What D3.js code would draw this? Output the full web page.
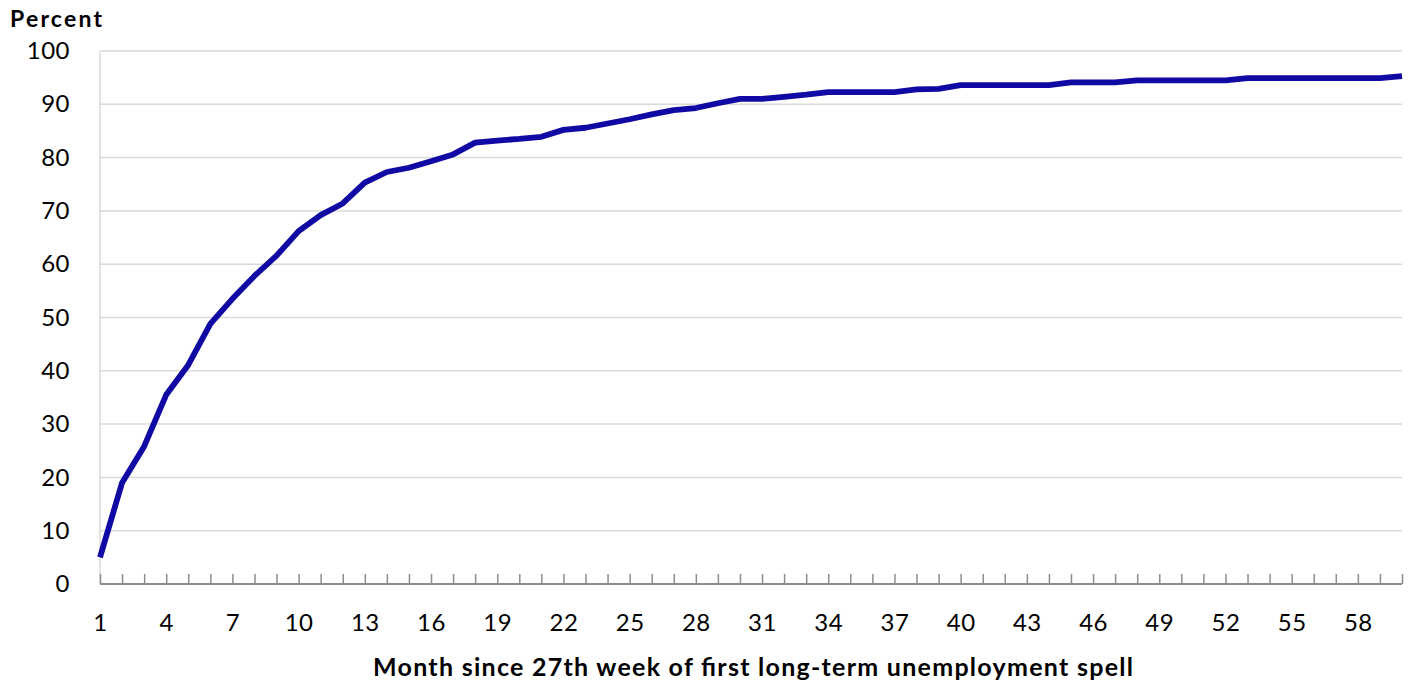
<!DOCTYPE html>
<html>
<head>
<meta charset="utf-8">
<script src="https://cdn.jsdelivr.net/npm/d3@7"></script>
<style>
  html, body { margin: 0; padding: 0; background: #fff; }
  svg { display: block; }
  text { font-family: Lato, "Open Sans", sans-serif; fill: #000; }
</style>
</head>
<body>
<svg id="chart" width="1415" height="685"></svg>
<script>
// ---- data ----
const months = [1,2,3,4,5,6,7,8,9,10,11,12,13,14,15,16,17,18,19,20,
  21,22,23,24,25,26,27,28,29,30,31,32,33,34,35,36,37,38,39,40,
  41,42,43,44,45,46,47,48,49,50,51,52,53,54,55,56,57,58,59,60];
const percentValues = [5.0,19.0,25.8,35.5,41.1,48.8,53.5,57.8,61.6,66.2,
  69.2,71.4,75.3,77.3,78.1,79.3,80.6,82.8,83.2,83.5,
  83.9,85.2,85.6,86.4,87.2,88.1,88.9,89.3,90.2,91.0,
  91.0,91.4,91.8,92.3,92.3,92.3,92.3,92.8,92.9,93.6,
  93.6,93.6,93.6,93.6,94.1,94.1,94.1,94.5,94.5,94.5,
  94.5,94.5,94.9,94.9,94.9,94.9,94.9,94.9,94.9,95.3];
const xTickLabels = [1,4,7,10,13,16,19,22,25,28,31,34,37,40,43,46,49,52,55,58];
const yTickLabels = [0,10,20,30,40,50,60,70,80,90,100];
const yTitle = "Percent";
const xTitle = "Month since 27th week of first long-term unemployment spell";

// ---- layout ----
const svg = d3.select("#chart");
const x = d3.scaleLinear().domain([1, 60]).range([100, 1402]);
const y = d3.scaleLinear().domain([0, 100]).range([584, 51]);

// gridlines
svg.append("g")
  .selectAll("line")
  .data(yTickLabels.filter(v => v > 0))
  .join("line")
  .attr("x1", x(1)).attr("x2", x(60))
  .attr("y1", d => y(d)).attr("y2", d => y(d))
  .attr("stroke", "#d9d9d9").attr("stroke-width", 1.5);

// left vertical line (light)
svg.append("line")
  .attr("x1", x(1)).attr("x2", x(1))
  .attr("y1", y(100)).attr("y2", y(0))
  .attr("stroke", "#d9d9d9").attr("stroke-width", 1.5);

// y axis labels
const yAxis = d3.axisLeft(y).tickValues(yTickLabels).tickSize(0).tickPadding(30)
  .tickFormat(d3.format("d"));
const gy = svg.append("g").attr("transform", `translate(${x(1)},0)`).call(yAxis);
gy.select(".domain").remove();
gy.selectAll("text").style("font-size", "24px").style("font-family", "Lato, sans-serif")
  .style("letter-spacing", "0.5px").attr("fill", "#000");

// x axis: minor ticks every month (inward)
const xAxisTicks = d3.axisTop(x).tickValues(months).tickSize(10).tickFormat("");
const gxt = svg.append("g").attr("transform", `translate(0,${y(0)})`).call(xAxisTicks);
gxt.select(".domain").remove();
gxt.selectAll("line").attr("stroke", "#8c8c8c").attr("stroke-width", 1.5);

// x axis line
svg.append("line")
  .attr("x1", x(1)).attr("x2", x(60))
  .attr("y1", y(0)).attr("y2", y(0))
  .attr("stroke", "#8c8c8c").attr("stroke-width", 2);

// x labels
const xAxisLabels = d3.axisBottom(x).tickValues(xTickLabels).tickSize(0).tickPadding(30)
  .tickFormat(d3.format("d"));
const gxl = svg.append("g").attr("transform", `translate(0,${y(0)})`).call(xAxisLabels);
gxl.select(".domain").remove();
gxl.selectAll("text").style("font-size", "24px").style("font-family", "Lato, sans-serif")
  .style("letter-spacing", "0.5px").attr("fill", "#000");

// line
const line = d3.line().x((d, i) => x(months[i])).y(d => y(d));
svg.append("path")
  .datum(percentValues)
  .attr("d", line)
  .attr("fill", "none")
  .attr("stroke", "#1109a3")
  .attr("stroke-width", 5.8)
  .attr("stroke-linejoin", "round");

// titles
svg.append("text")
  .attr("x", 10).attr("y", 27)
  .attr("textLength", 92).attr("lengthAdjust", "spacing")
  .style("font-size", "23px").style("font-weight", "bold")
  .text(yTitle);

svg.append("text")
  .attr("x", 373).attr("y", 676)
  .attr("textLength", 760).attr("lengthAdjust", "spacing")
  .style("font-size", "25px").style("font-weight", "bold")
  .text(xTitle);
</script>
</body>
</html>
